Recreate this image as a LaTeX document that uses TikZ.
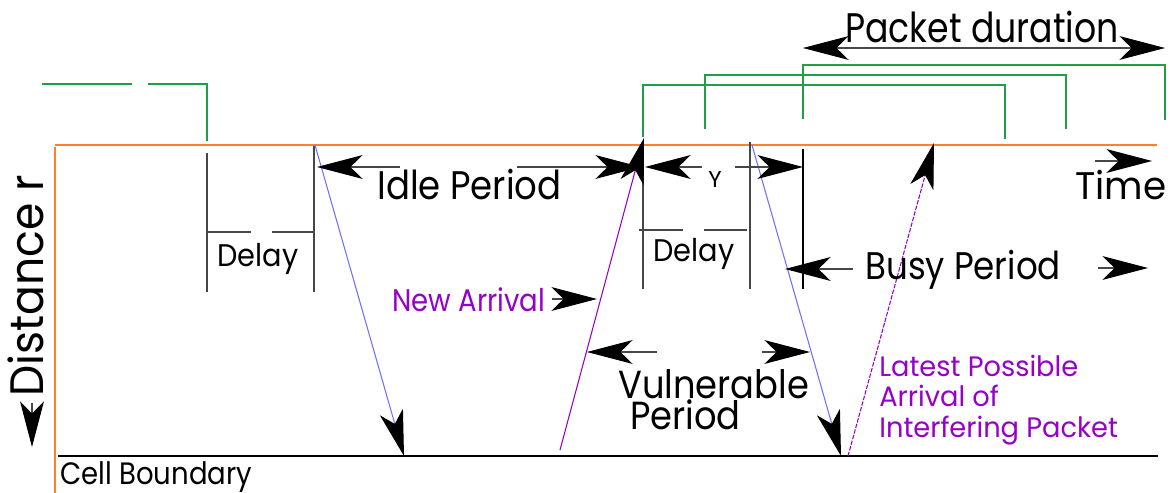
\documentclass[tikz,border=0pt]{standalone}
\usepackage{fontspec}
\setmainfont{Poppins}
\usetikzlibrary{arrows.meta}
\definecolor{orng}{RGB}{255,128,40}
\definecolor{grn}{RGB}{30,160,70}
\definecolor{blu}{RGB}{110,110,255}
\definecolor{purp}{RGB}{150,0,200}
\definecolor{dgry}{RGB}{70,70,70}
\newcommand{\myfs}[1]{\fontsize{#1}{#1}\selectfont}
\begin{document}
\begin{tikzpicture}[x=0.02cm,y=-0.02cm,
  >={Stealth[length=26pt,width=13.6pt,inset=7pt,color=black]},
  shaft/.style={dgry,line width=0.6pt,->},
  tick/.style={dgry,line width=0.7pt},
  gline/.style={grn,line width=0.6pt},
  txt/.style={inner sep=0pt,anchor=base west,text=black},
  ptxt/.style={inner sep=0pt,anchor=base west,text=purp}]
\useasboundingbox (0,0) rectangle (1171,493);
% axes
\draw[orng,line width=0.7pt] (55,145) -- (1157,145);
\draw[orng,line width=0.7pt] (55,147) -- (55,493);
\draw[black,line width=0.8pt] (58,456) -- (1158,456);
% green brackets
\draw[gline] (42,84) -- (132,84);
\draw[gline] (148,84) -- (207,84) -- (207,141);
\draw[gline] (643,137) -- (643,85) -- (1005,85) -- (1005,139);
\draw[gline] (705,129) -- (705,75) -- (1066,75) -- (1066,129);
\draw[gline] (803,119) -- (803,65) -- (1165,65) -- (1165,120);
% delay boxes
\draw[tick] (207,153) -- (207,292);
\draw[tick] (314,146) -- (314,292);
\draw[tick] (207,232) -- (251,232);
\draw[tick] (272,232) -- (315,232);
\draw[tick] (643,145) -- (643,289);
\draw[tick] (750,142) -- (750,289);
\draw[tick] (639,230) -- (683,230);
\draw[tick] (704,230) -- (747,230);
\draw[black,line width=0.8pt] (803,149) -- (803,289);
% propagation lines
\coordinate (b1s) at (315,145); \coordinate (b1e) at (404,456);
\coordinate (b2s) at (752,145); \coordinate (b2e) at (841,456);
\coordinate (p1s) at (560,450); \coordinate (p1e) at (644,138);
\coordinate (p2s) at (848,456); \coordinate (p2e) at (934,143);
\draw[blu,line width=0.6pt,->] (b1s) -- (b1e);
\draw[blu,line width=0.6pt,->] (b2s) -- (b2e);
\draw[purp,line width=0.6pt,->] (p1s) -- (p1e);
\draw[purp,line width=0.6pt,dash pattern=on 2.5pt off 0.8pt,->] (p2s) -- (p2e);
% dimension arrows
\draw[shaft] (400,167) -- (317,167);
\draw[shaft] (517,167) -- (641,167);
\draw[shaft] (702,167) -- (645,167);
\draw[shaft] (735,167) -- (803,167);
\draw[dgry,line width=0.6pt,<->] (803,48) -- (1165,48);
\draw[shaft] (1095,161) -- (1152,161);
\draw[shaft] (853,269) -- (785,269);
\draw[shaft] (1098,268) -- (1148,268);
\draw[shaft] (552,299) -- (597,299);
\draw[shaft] (657,352) -- (587,352);
\draw[shaft] (762,352) -- (810,352);
\draw[shaft] (32,403) -- (32,447);
% texts
\node[txt,xscale=0.84] (pd) at (845,43) {\myfs{23.5pt}Packet duration};
\node[txt,xscale=0.89] (idle) at (377,200) {\myfs{22.7pt}Idle Period};
\node[txt,anchor=base] (y) at (715,188) {\myfs{13pt}Y};
\node[txt,xscale=0.97] (time) at (1075,200) {\myfs{21.9pt}Time};
\node[txt,anchor=base,xscale=0.92] (d1) at (258,267) {\myfs{17.8pt}Delay};
\node[txt,anchor=base,xscale=0.92] (d2) at (694,262) {\myfs{17.8pt}Delay};
\node[txt,xscale=0.886] (busy) at (865,280) {\myfs{21.9pt}Busy Period};
\node[ptxt,xscale=0.88] (na) at (392,312) {\myfs{17.8pt}New Arrival};
\node[txt,xscale=0.9] (vul) at (618,399) {\myfs{22.3pt}\vtop{\baselineskip=17.6pt\lineskiplimit=-100pt\lineskip=0pt\hbox{Vulnerable}\hbox{\hspace*{7.5pt}Period}}};
\node[ptxt,xscale=0.97] (l1) at (879,377) {\myfs{16pt}Latest Possible};
\node[ptxt,xscale=0.97] (l2) at (879,407) {\myfs{16pt}Arrival of};
\node[ptxt,xscale=0.97] (l3) at (879,438) {\myfs{16pt}Interfering Packet};
\node[txt,xscale=0.89] (cb) at (60,484) {\myfs{17.6pt}Cell Boundary};
\node[txt,rotate=90,xscale=0.94] (dist) at (43,397) {\myfs{26.7pt}Distance r};
\end{tikzpicture}
\end{document}
